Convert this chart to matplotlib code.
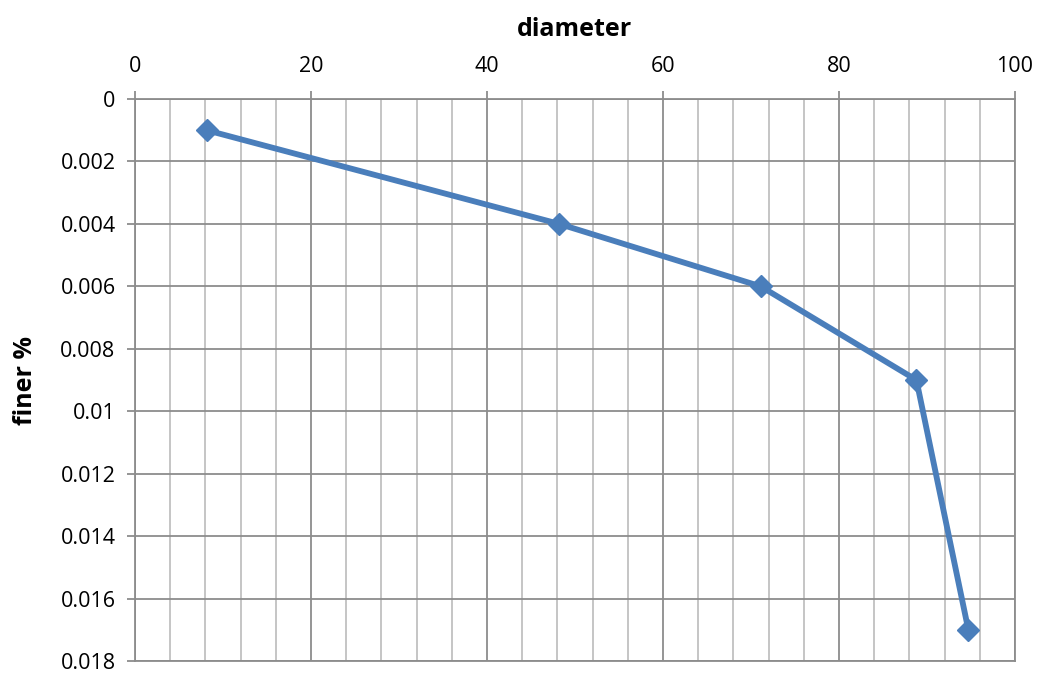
import matplotlib.pyplot as plt
from matplotlib.ticker import MultipleLocator

plt.rcParams['font.family'] = ['Open Sans', 'DejaVu Sans']

# values
diameter = [8.15, 48.2, 71.1, 88.8, 94.7]
finer = [0.001, 0.004, 0.006, 0.009, 0.017]

x_ticks = [0, 20, 40, 60, 80, 100]
y_ticks = [0, 0.002, 0.004, 0.006, 0.008, 0.010, 0.012, 0.014, 0.016, 0.018]
y_tick_labels = ["0", "0.002", "0.004", "0.006", "0.008", "0.01",
                 "0.012", "0.014", "0.016", "0.018"]

fig = plt.figure(figsize=(10.41, 6.75), dpi=100)
ax = fig.add_axes([0.1297, 0.0207, 0.975 - 0.1297, 0.8533 - 0.0207])

ax.plot(diameter, finer, color="#4a7ebb", lw=4.2, marker="D", ms=11,
        markeredgecolor="#4a7ebb", zorder=3)

ax.set_xlim(0, 100)
ax.set_ylim(0.018, 0)
ax.xaxis.tick_top()
ax.xaxis.set_label_position("top")
ax.set_xticks(x_ticks)
ax.xaxis.set_minor_locator(MultipleLocator(4))
ax.set_yticks(y_ticks)
ax.set_yticklabels(y_tick_labels)

ax.grid(which="major", color="#8c8c8c", lw=1.3)
ax.grid(which="minor", axis="x", color="#c0c0c0", lw=1.3)
ax.set_axisbelow(True)

ax.tick_params(which="major", length=6, width=1.3, color="#8c8c8c",
               labelsize=15.5, pad=8)
ax.tick_params(axis="x", which="major", pad=10)
ax.tick_params(which="minor", length=0)
for s in ax.spines.values():
    s.set_color("#8c8c8c")
    s.set_linewidth(1.3)

ax.set_xlabel("diameter", fontsize=18, fontweight="bold", labelpad=14)
ax.set_ylabel("finer %", fontsize=18, fontweight="bold", labelpad=16)

fig.savefig("out.png", dpi=100)
